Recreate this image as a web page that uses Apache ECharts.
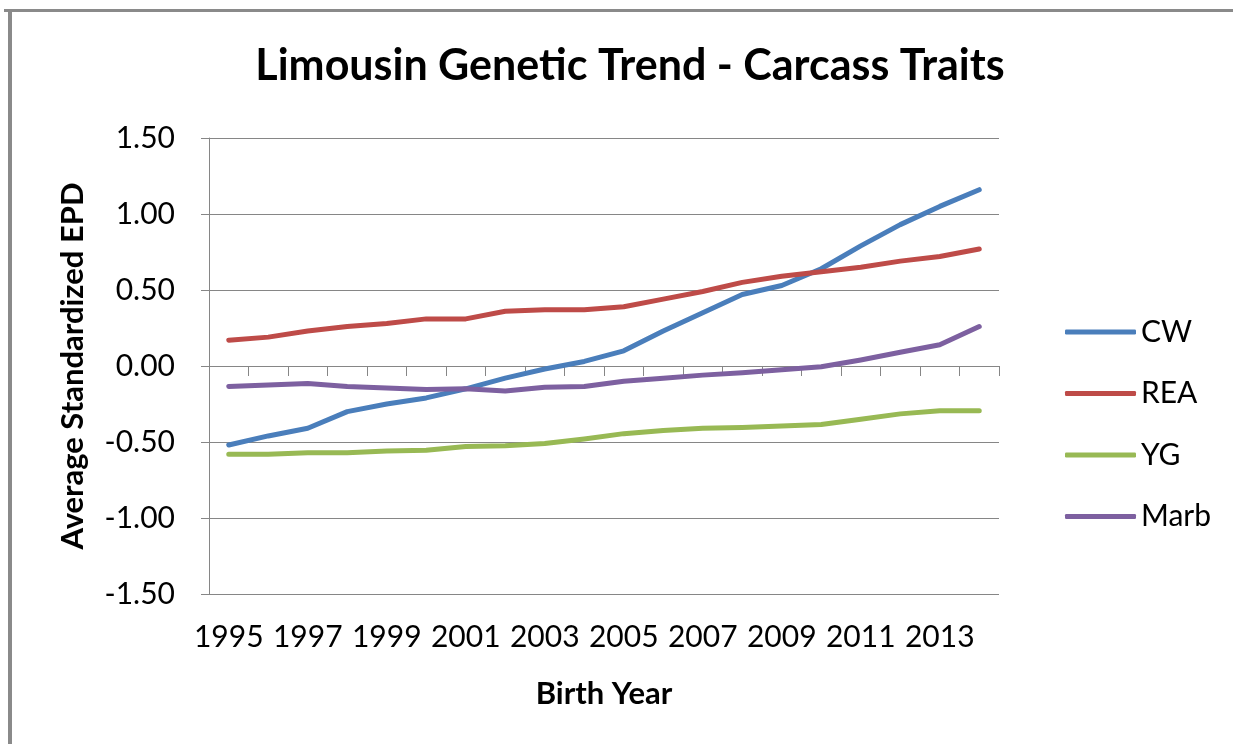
<!DOCTYPE html>
<html>
<head>
<meta charset="utf-8">
<script src="https://cdn.jsdelivr.net/npm/echarts@6/dist/echarts.min.js"></script>
<style>
html,body{margin:0;padding:0;background:#fff;}
#chart{width:1233px;height:744px;}
</style>
</head>
<body>
<div id="chart"></div>
<script>
var years = ['1995','1996','1997','1998','1999','2000','2001','2002','2003','2004','2005','2006','2007','2008','2009','2010','2011','2012','2013','2014'];
var cw   = [-0.52,-0.46,-0.41,-0.30,-0.25,-0.21,-0.15,-0.08,-0.02,0.03,0.10,0.23,0.35,0.47,0.53,0.64,0.79,0.93,1.05,1.16];
var rea  = [0.17,0.19,0.23,0.26,0.28,0.31,0.31,0.36,0.37,0.37,0.39,0.44,0.49,0.55,0.59,0.62,0.65,0.69,0.72,0.77];
var yg   = [-0.58,-0.58,-0.57,-0.57,-0.56,-0.555,-0.53,-0.525,-0.51,-0.48,-0.445,-0.425,-0.41,-0.405,-0.395,-0.385,-0.35,-0.315,-0.295,-0.295];
var marb = [-0.135,-0.125,-0.115,-0.135,-0.145,-0.155,-0.15,-0.165,-0.14,-0.135,-0.10,-0.08,-0.06,-0.045,-0.025,-0.005,0.04,0.09,0.14,0.26];
var seriesNames = ['CW','REA','YG','Marb'];
var seriesColors = ['#4A7EBB','#BE4B48','#98B954','#7D60A0'];
var seriesData = [cw, rea, yg, marb];
var yTicks = {min:-1.5, max:1.5, interval:0.5};

var chart = echarts.init(document.getElementById('chart'));
var font = 'Lato';
var option = {
  animation:false,
  backgroundColor:'#ffffff',
  title:{
    text:'Limousin Genetic Trend - Carcass Traits',
    left:625, top:40, textAlign:'center',
    textStyle:{fontFamily:font, fontWeight:'bold', fontSize:43, color:'#000'}
  },
  legend:{
    orient:'vertical', left:1060, top:312,
    icon:'roundRect', itemWidth:71, itemHeight:5, itemGap:31.5,
    textStyle:{fontFamily:font, fontSize:30, color:'#000', lineHeight:30},
    data:seriesNames
  },
  grid:{left:209, right:234, top:138, bottom:150},
  xAxis:{
    type:'category', data:years, boundaryGap:true,
    name:'Birth Year', nameLocation:'middle', nameGap:84,
    nameTextStyle:{fontFamily:font, fontWeight:'bold', fontSize:31, color:'#000'},
    axisLine:{lineStyle:{color:'#868686', width:1}},
    axisTick:{show:true, interval:0, length:10, lineStyle:{color:'#868686'}},
    axisLabel:{interval:1, margin:28, fontFamily:font, fontSize:30, color:'#000'},
    splitLine:{show:false}
  },
  yAxis:{
    type:'value', min:yTicks.min, max:yTicks.max, interval:yTicks.interval,
    name:'Average Standardized EPD', nameLocation:'middle', nameGap:121, nameRotate:90,
    nameTextStyle:{fontFamily:font, fontWeight:'bold', fontSize:31, color:'#000'},
    axisLine:{show:true, lineStyle:{color:'#868686', width:1}},
    axisTick:{show:true, length:8, lineStyle:{color:'#868686'}},
    axisLabel:{margin:34, fontFamily:font, fontSize:30, color:'#000', formatter:function(v){return v.toFixed(2);}},
    splitLine:{show:true, lineStyle:{color:'#868686', width:1}}
  },
  series: seriesNames.map(function(n,i){
    return {name:n, type:'line', data:seriesData[i], symbol:'none', smooth:false,
      lineStyle:{color:seriesColors[i], width:5, cap:'round', join:'round'},
      itemStyle:{color:seriesColors[i]}};
  }),
  graphic:[
    {type:'rect', shape:{x:4, y:9, width:1229, height:3}, style:{fill:'#8a8a8a'}, silent:true},
    {type:'rect', shape:{x:8, y:9, width:4, height:735}, style:{fill:'#8a8a8a'}, silent:true}
  ]
};
chart.setOption(option);
</script>
</body>
</html>
